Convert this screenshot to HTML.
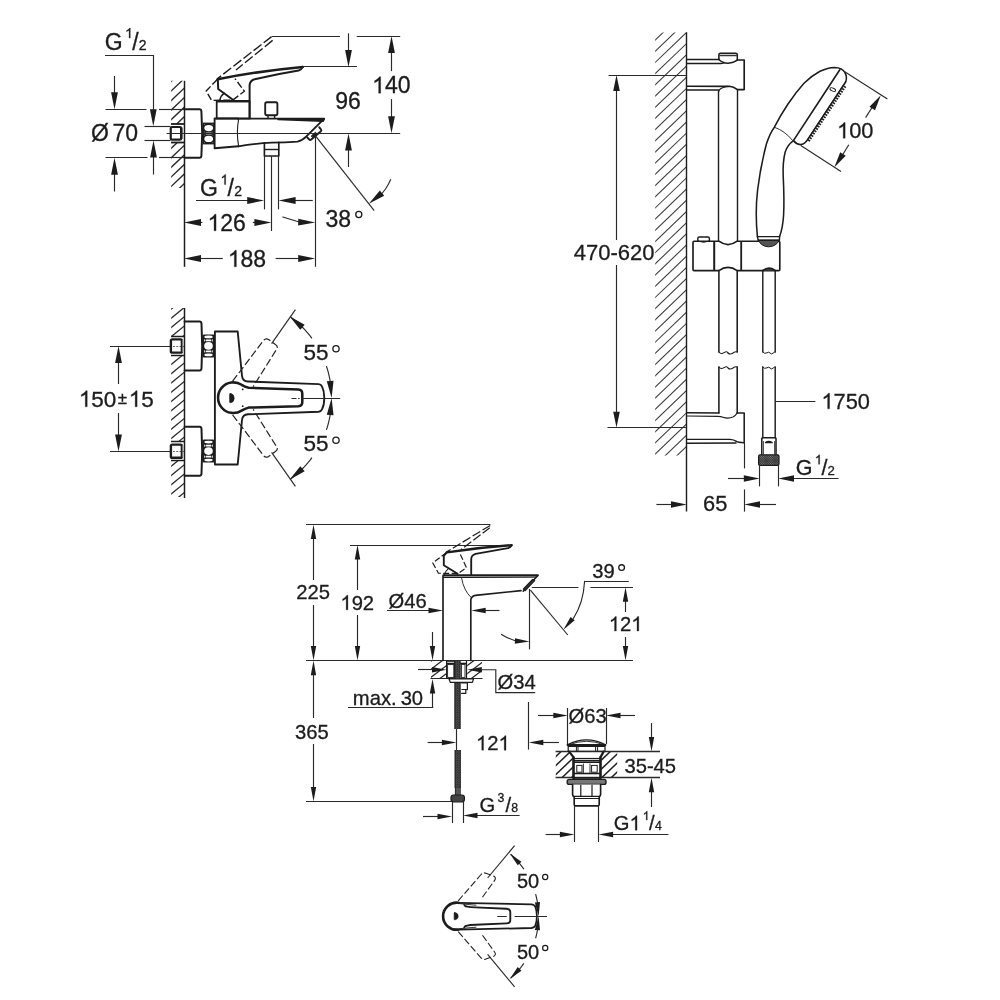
<!DOCTYPE html>
<html><head><meta charset="utf-8"><title>drawing</title>
<style>html,body{margin:0;padding:0;background:#fff;}svg{display:block;will-change:transform;filter:grayscale(1);font-family:"Liberation Sans",sans-serif;}svg text{font-family:"Liberation Sans",sans-serif;stroke:#1c1c1c;stroke-width:0.3px;}</style></head>
<body>
<svg width="1000" height="1000" viewBox="0 0 1000 1000">
<rect x="0" y="0" width="1000" height="1000" fill="#ffffff"/>
<g id="A">
<clipPath id="hA"><rect x="171.2" y="80.8" width="12.8" height="107.2"/></clipPath>
<g clip-path="url(#hA)">
<line x1="170.2" y1="63.26" x2="185" y2="49.2" stroke="#2a2a2a" stroke-width="1.35" stroke-linecap="butt"/>
<line x1="170.2" y1="72.81" x2="185" y2="58.75" stroke="#2a2a2a" stroke-width="1.35" stroke-linecap="butt"/>
<line x1="170.2" y1="82.36" x2="185" y2="68.3" stroke="#2a2a2a" stroke-width="1.35" stroke-linecap="butt"/>
<line x1="170.2" y1="91.91" x2="185" y2="77.85" stroke="#2a2a2a" stroke-width="1.35" stroke-linecap="butt"/>
<line x1="170.2" y1="101.46" x2="185" y2="87.4" stroke="#2a2a2a" stroke-width="1.35" stroke-linecap="butt"/>
<line x1="170.2" y1="111.01" x2="185" y2="96.95" stroke="#2a2a2a" stroke-width="1.35" stroke-linecap="butt"/>
<line x1="170.2" y1="120.56" x2="185" y2="106.5" stroke="#2a2a2a" stroke-width="1.35" stroke-linecap="butt"/>
<line x1="170.2" y1="130.11" x2="185" y2="116.05" stroke="#2a2a2a" stroke-width="1.35" stroke-linecap="butt"/>
<line x1="170.2" y1="139.66" x2="185" y2="125.6" stroke="#2a2a2a" stroke-width="1.35" stroke-linecap="butt"/>
<line x1="170.2" y1="149.21" x2="185" y2="135.15" stroke="#2a2a2a" stroke-width="1.35" stroke-linecap="butt"/>
<line x1="170.2" y1="158.76" x2="185" y2="144.7" stroke="#2a2a2a" stroke-width="1.35" stroke-linecap="butt"/>
<line x1="170.2" y1="168.31" x2="185" y2="154.25" stroke="#2a2a2a" stroke-width="1.35" stroke-linecap="butt"/>
<line x1="170.2" y1="177.86" x2="185" y2="163.8" stroke="#2a2a2a" stroke-width="1.35" stroke-linecap="butt"/>
<line x1="170.2" y1="187.41" x2="185" y2="173.35" stroke="#2a2a2a" stroke-width="1.35" stroke-linecap="butt"/>
<line x1="170.2" y1="196.96" x2="185" y2="182.9" stroke="#2a2a2a" stroke-width="1.35" stroke-linecap="butt"/>
<line x1="170.2" y1="206.51" x2="185" y2="192.45" stroke="#2a2a2a" stroke-width="1.35" stroke-linecap="butt"/>
<line x1="170.2" y1="216.06" x2="185" y2="202" stroke="#2a2a2a" stroke-width="1.35" stroke-linecap="butt"/>
</g>
<line x1="105" y1="55.5" x2="153.8" y2="55.5" stroke="#2a2a2a" stroke-width="1.15" stroke-linecap="butt"/>
<line x1="153.5" y1="55.2" x2="153.5" y2="112" stroke="#2a2a2a" stroke-width="1.15" stroke-linecap="butt"/>
<polygon points="153.3,126.2 149.9,109.2 156.7,109.2" fill="#1c1c1c" stroke="none" stroke-width="0"/>
<line x1="105.5" y1="109.5" x2="146.5" y2="109.5" stroke="#2a2a2a" stroke-width="1.15" stroke-linecap="butt"/>
<line x1="159" y1="109.5" x2="184" y2="109.5" stroke="#2a2a2a" stroke-width="1.15" stroke-linecap="butt"/>
<line x1="105.5" y1="157.5" x2="147.5" y2="157.5" stroke="#2a2a2a" stroke-width="1.15" stroke-linecap="butt"/>
<line x1="159" y1="157.5" x2="184" y2="157.5" stroke="#2a2a2a" stroke-width="1.15" stroke-linecap="butt"/>
<line x1="114.5" y1="76" x2="114.5" y2="95.7" stroke="#2a2a2a" stroke-width="1.15" stroke-linecap="butt"/>
<polygon points="114.5,109.3 111.1,92.3 117.9,92.3" fill="#1c1c1c" stroke="none" stroke-width="0"/>
<line x1="114.5" y1="191.5" x2="114.5" y2="171.4" stroke="#2a2a2a" stroke-width="1.15" stroke-linecap="butt"/>
<polygon points="114.5,157.8 117.9,174.8 111.1,174.8" fill="#1c1c1c" stroke="none" stroke-width="0"/>
<line x1="144.5" y1="126.5" x2="171" y2="126.5" stroke="#2a2a2a" stroke-width="1.15" stroke-linecap="butt"/>
<line x1="144.5" y1="140.5" x2="171" y2="140.5" stroke="#2a2a2a" stroke-width="1.15" stroke-linecap="butt"/>
<line x1="153.5" y1="174.5" x2="153.5" y2="154.2" stroke="#2a2a2a" stroke-width="1.15" stroke-linecap="butt"/>
<polygon points="153.5,140.6 156.9,157.6 150.1,157.6" fill="#1c1c1c" stroke="none" stroke-width="0"/>
<rect x="170.4" y="124" width="13.6" height="18.5" fill="#fff"/>
<line x1="171" y1="124" x2="184" y2="124" stroke="#1c1c1c" stroke-width="1.8" stroke-linecap="butt"/>
<line x1="171" y1="142.5" x2="184" y2="142.5" stroke="#1c1c1c" stroke-width="1.8" stroke-linecap="butt"/>
<rect x="170.75" y="127" width="10.35" height="12.6" rx="1.2" fill="#fff" stroke="#1c1c1c" stroke-width="2.2"/>
<line x1="182.5" y1="127.5" x2="182.5" y2="139" stroke="#777" stroke-width="1" stroke-linecap="butt"/>
<path d="M184.6,109.3 H199.5 Q201.3,109.3 201.4,111.5 L202.2,133.5 L201.4,155.8 Q201.3,157.8 199.5,157.8 H184.6" fill="#fff" stroke="#1c1c1c" stroke-width="1.98" stroke-linejoin="round" stroke-linecap="round" />
<line x1="184.5" y1="80.8" x2="184.5" y2="266.8" stroke="#1c1c1c" stroke-width="1.5" stroke-linecap="butt"/>
<rect x="202.6" y="122.6" width="12.2" height="21.8" fill="#1e1e1e"/>
<ellipse cx="208.7" cy="128.1" rx="4.4" ry="3.1" fill="#fff"/>
<ellipse cx="208.7" cy="138.9" rx="4.4" ry="3.1" fill="#fff"/>
<rect x="205.7" y="132.2" width="6" height="2.6" fill="#8a8a8a"/>
<circle cx="204.5" cy="124.3" r="0.45" fill="#ddd"/>
<circle cx="204.5" cy="131.9" r="0.45" fill="#ddd"/>
<circle cx="204.5" cy="135.1" r="0.45" fill="#ddd"/>
<circle cx="204.5" cy="142.7" r="0.45" fill="#ddd"/>
<circle cx="212.9" cy="124.3" r="0.45" fill="#ddd"/>
<circle cx="212.9" cy="131.9" r="0.45" fill="#ddd"/>
<circle cx="212.9" cy="135.1" r="0.45" fill="#ddd"/>
<circle cx="212.9" cy="142.7" r="0.45" fill="#ddd"/>
<path d="M214.6,118.5 H237.6 M214.6,118.5 V148.3 L238.4,146.3" fill="none" stroke="#1c1c1c" stroke-width="1.87" stroke-linejoin="round" stroke-linecap="round" />
<path d="M237.6,118.6 H324.2 L306.4,136.4 Q302.5,140.6 297.5,141.6 Q285,142.6 272,142.6 Q255,143.5 238.4,146.3" fill="none" stroke="#1c1c1c" stroke-width="1.87" stroke-linejoin="round" stroke-linecap="round" />
<path d="M238.6,119 Q236.2,133 238.6,146" fill="none" stroke="#1c1c1c" stroke-width="1.1" stroke-linejoin="round" stroke-linecap="round" />
<path d="M278,119.5 L323,121.3" fill="none" stroke="#1c1c1c" stroke-width="1.43" stroke-linejoin="round" stroke-linecap="round" />
<path d="M281,118.9 L324.2,119.6 L323,121.3" fill="#1c1c1c" stroke="#1c1c1c" stroke-width="1.2" stroke-linejoin="round" stroke-linecap="round" />
<path d="M307.2,137.3 L309.3,139.6 Q310.2,140.4 311.2,139.6 L320.9,131.2 Q321.7,130.4 321,129.5 L319.3,127.3" fill="none" stroke="#1c1c1c" stroke-width="1.98" stroke-linejoin="round" stroke-linecap="round" />
<path d="M311.5,135.8 L315.5,132.2 L316.6,133.6 L312.8,137.2 Z" fill="#1c1c1c" stroke="#1c1c1c" stroke-width="1" stroke-linejoin="round" stroke-linecap="round" />
<rect x="216.7" y="101.4" width="32.9" height="17.1" rx="0" fill="none" stroke="#1c1c1c" stroke-width="1.76"/>
<line x1="216.7" y1="101.2" x2="249.6" y2="101.2" stroke="#1c1c1c" stroke-width="2.2" stroke-linecap="butt"/>
<path d="M249.6,118.3 V85.4 Q249.8,80.6 254.6,79.2 Q278,74 298.6,70.6 Q301.6,69.4 302.8,66.9" fill="none" stroke="#1c1c1c" stroke-width="1.98" stroke-linejoin="round" stroke-linecap="round" />
<path d="M302.8,66.9 Q262,70.6 217.6,79.2" fill="none" stroke="#1c1c1c" stroke-width="2.53" stroke-linejoin="round" stroke-linecap="round" />
<path d="M217.8,79.2 L218.2,89 L233.6,100.2" fill="none" stroke="#1c1c1c" stroke-width="1.98" stroke-linejoin="round" stroke-linecap="round" />
<path d="M219.8,100.4 Q220.6,95.8 224.2,93.2" fill="none" stroke="#1c1c1c" stroke-width="1.43" stroke-linejoin="round" stroke-linecap="round" />
<path d="M271.6,36.6 L217.6,78.6" fill="none" stroke="#1c1c1c" stroke-width="1.4" stroke-linejoin="round" stroke-linecap="butt" stroke-dasharray="10 2.8" />
<path d="M272.6,40.4 L236,70" fill="none" stroke="#1c1c1c" stroke-width="1.4" stroke-linejoin="round" stroke-linecap="butt" stroke-dasharray="10 2.8" />
<path d="M217.2,79.4 L206.2,91 L211.6,100.4 L232.6,100.2 L244.4,91.2 L235,78.6" fill="none" stroke="#1c1c1c" stroke-width="1.4" stroke-linejoin="round" stroke-linecap="butt" stroke-dasharray="7 2.6" />
<rect x="265.2" y="102.3" width="12.2" height="12.9" rx="1.6" fill="none" stroke="#1c1c1c" stroke-width="1.87"/>
<path d="M268,115.4 V118.3 M274.6,115.4 V118.3" fill="none" stroke="#1c1c1c" stroke-width="1.43" stroke-linejoin="round" stroke-linecap="round" />
<path d="M264.4,142.8 V156 H278.8 V142.4" fill="none" stroke="#1c1c1c" stroke-width="1.65" stroke-linejoin="round" stroke-linecap="round" />
<line x1="264.4" y1="149.5" x2="278.8" y2="149.5" stroke="#1c1c1c" stroke-width="1.4" stroke-linecap="butt"/>
<line x1="264.5" y1="156" x2="264.5" y2="209.4" stroke="#2a2a2a" stroke-width="1.15" stroke-linecap="butt"/>
<line x1="278.5" y1="156" x2="278.5" y2="209.4" stroke="#2a2a2a" stroke-width="1.15" stroke-linecap="butt"/>
<line x1="271.5" y1="156" x2="271.5" y2="231" stroke="#2a2a2a" stroke-width="1.15" stroke-linecap="butt"/>
<line x1="166.6" y1="133.5" x2="400.2" y2="133.5" stroke="#2a2a2a" stroke-width="1.15" stroke-linecap="butt"/>
<line x1="272" y1="36.5" x2="339.9" y2="36.5" stroke="#2a2a2a" stroke-width="1.15" stroke-linecap="butt"/>
<line x1="356.7" y1="36.5" x2="400.2" y2="36.5" stroke="#2a2a2a" stroke-width="1.15" stroke-linecap="butt"/>
<line x1="303" y1="66.5" x2="357" y2="66.5" stroke="#2a2a2a" stroke-width="1.15" stroke-linecap="butt"/>
<line x1="348.5" y1="33.3" x2="348.5" y2="53.3" stroke="#2a2a2a" stroke-width="1.15" stroke-linecap="butt"/>
<polygon points="348.5,66.9 345.1,49.9 351.9,49.9" fill="#1c1c1c" stroke="none" stroke-width="0"/>
<line x1="348.5" y1="167" x2="348.5" y2="147" stroke="#2a2a2a" stroke-width="1.15" stroke-linecap="butt"/>
<polygon points="348.5,133.4 351.9,150.4 345.1,150.4" fill="#1c1c1c" stroke="none" stroke-width="0"/>
<line x1="391.5" y1="71.1" x2="391.5" y2="49.7" stroke="#2a2a2a" stroke-width="1.15" stroke-linecap="butt"/>
<polygon points="391.5,36.1 394.9,53.1 388.1,53.1" fill="#1c1c1c" stroke="none" stroke-width="0"/>
<line x1="391.5" y1="99.1" x2="391.5" y2="119.6" stroke="#2a2a2a" stroke-width="1.15" stroke-linecap="butt"/>
<polygon points="391.5,133.2 388.1,116.2 394.9,116.2" fill="#1c1c1c" stroke="none" stroke-width="0"/>
<line x1="315.5" y1="135.6" x2="315.5" y2="266.8" stroke="#2a2a2a" stroke-width="1.15" stroke-linecap="butt"/>
<line x1="315.3" y1="135.6" x2="374.2" y2="210.6" stroke="#2a2a2a" stroke-width="1.15" stroke-linecap="butt"/>
<path d="M390.8,179.2 L388.5,184 L385.5,189 L382,193.5" fill="none" stroke="#2a2a2a" stroke-width="1.15" stroke-linejoin="round" stroke-linecap="butt" />
<polygon points="368.8,203.8 379.87,190.46 384.15,195.75" fill="#1c1c1c" stroke="none" stroke-width="0"/>
<line x1="196" y1="200.5" x2="250.6" y2="200.5" stroke="#2a2a2a" stroke-width="1.15" stroke-linecap="butt"/>
<polygon points="264.2,200.5 247.2,203.9 247.2,197.1" fill="#1c1c1c" stroke="none" stroke-width="0"/>
<line x1="312.8" y1="200.5" x2="292.2" y2="200.5" stroke="#2a2a2a" stroke-width="1.15" stroke-linecap="butt"/>
<polygon points="278.6,200.5 295.6,197.1 295.6,203.9" fill="#1c1c1c" stroke="none" stroke-width="0"/>
<line x1="202.4" y1="222.5" x2="197.6" y2="222.5" stroke="#2a2a2a" stroke-width="1.15" stroke-linecap="butt"/>
<polygon points="184,222.5 201,219.1 201,225.9" fill="#1c1c1c" stroke="none" stroke-width="0"/>
<line x1="252.8" y1="222.5" x2="257.8" y2="222.5" stroke="#2a2a2a" stroke-width="1.15" stroke-linecap="butt"/>
<polygon points="271.4,222.5 254.4,225.9 254.4,219.1" fill="#1c1c1c" stroke="none" stroke-width="0"/>
<path d="M282.8,217 Q291,219.6 300,222.2" fill="none" stroke="#2a2a2a" stroke-width="1.15" stroke-linejoin="round" stroke-linecap="round" />
<polygon points="315.2,222.4 298.14,225.46 298.27,218.66" fill="#1c1c1c" stroke="none" stroke-width="0"/>
<line x1="222.8" y1="258.5" x2="197.6" y2="258.5" stroke="#2a2a2a" stroke-width="1.15" stroke-linecap="butt"/>
<polygon points="184,258.5 201,255.1 201,261.9" fill="#1c1c1c" stroke="none" stroke-width="0"/>
<line x1="275.6" y1="258.5" x2="301.6" y2="258.5" stroke="#2a2a2a" stroke-width="1.15" stroke-linecap="butt"/>
<polygon points="315.2,258.5 298.2,261.9 298.2,255.1" fill="#1c1c1c" stroke="none" stroke-width="0"/>
<text x="104.65" y="49.6" font-size="23" fill="#1c1c1c">G</text>
<path d="M130.29,38.1L129.06,38.1L129.06,30.24Q128.61,30.67 127.89,31.09Q127.17,31.52 126.59,31.73L126.59,30.54Q127.63,30.05 128.4,29.36Q129.17,28.67 129.5,28.02L130.29,28.02Z" fill="#1c1c1c" stroke="#1c1c1c" stroke-width="0.3"/>
<text x="132.13" y="49.6" font-size="23" fill="#1c1c1c">/</text>
<text x="138.74" y="49.6" font-size="14.03" fill="#1c1c1c">2</text>
<text x="91.02" y="141.4" font-size="23" fill="#1c1c1c">Ø</text>
<text x="112.43" y="141.4" font-size="23" fill="#1c1c1c">70</text>
<text x="335.34" y="108.6" font-size="23" fill="#1c1c1c">96</text>
<path d="M380.67,93.2L378.64,93.2L378.64,80.32Q377.91,81.01 376.73,81.71Q375.54,82.41 374.6,82.76L374.6,80.8Q376.3,80 377.56,78.87Q378.83,77.73 379.36,76.67L380.67,76.67Z" fill="#1c1c1c" stroke="#1c1c1c" stroke-width="0.3"/>
<text x="384.89" y="93.2" font-size="23" fill="#1c1c1c">40</text>
<text x="200.05" y="196" font-size="23" fill="#1c1c1c">G</text>
<path d="M225.69,184.5L224.46,184.5L224.46,176.64Q224.01,177.07 223.29,177.49Q222.57,177.92 221.99,178.13L221.99,176.94Q223.03,176.45 223.8,175.76Q224.57,175.07 224.9,174.42L225.69,174.42Z" fill="#1c1c1c" stroke="#1c1c1c" stroke-width="0.3"/>
<text x="227.53" y="196" font-size="23" fill="#1c1c1c">/</text>
<text x="234.14" y="196" font-size="14.03" fill="#1c1c1c">2</text>
<path d="M216.07,230.8L214.04,230.8L214.04,217.92Q213.31,218.61 212.13,219.31Q210.94,220.01 210,220.36L210,218.4Q211.7,217.6 212.96,216.47Q214.23,215.33 214.76,214.27L216.07,214.27Z" fill="#1c1c1c" stroke="#1c1c1c" stroke-width="0.3"/>
<text x="220.29" y="230.8" font-size="23" fill="#1c1c1c">26</text>
<path d="M236.37,266.8L234.34,266.8L234.34,253.92Q233.61,254.61 232.43,255.31Q231.24,256.01 230.3,256.36L230.3,254.4Q232,253.6 233.26,252.47Q234.53,251.33 235.06,250.27L236.37,250.27Z" fill="#1c1c1c" stroke="#1c1c1c" stroke-width="0.3"/>
<text x="240.59" y="266.8" font-size="23" fill="#1c1c1c">88</text>
<text x="325.43" y="226.5" font-size="23" fill="#1c1c1c">38</text>
<circle cx="358.8" cy="214.5" r="3.05" fill="none" stroke="#1c1c1c" stroke-width="1.3"/>
</g>
<g id="B">
<clipPath id="hB"><rect x="171.2" y="308" width="12.8" height="189"/></clipPath>
<g clip-path="url(#hB)">
<line x1="170.2" y1="291.32" x2="185" y2="279.18" stroke="#2a2a2a" stroke-width="1.35" stroke-linecap="butt"/>
<line x1="170.2" y1="300.57" x2="185" y2="288.43" stroke="#2a2a2a" stroke-width="1.35" stroke-linecap="butt"/>
<line x1="170.2" y1="309.82" x2="185" y2="297.68" stroke="#2a2a2a" stroke-width="1.35" stroke-linecap="butt"/>
<line x1="170.2" y1="319.07" x2="185" y2="306.93" stroke="#2a2a2a" stroke-width="1.35" stroke-linecap="butt"/>
<line x1="170.2" y1="328.32" x2="185" y2="316.18" stroke="#2a2a2a" stroke-width="1.35" stroke-linecap="butt"/>
<line x1="170.2" y1="337.57" x2="185" y2="325.43" stroke="#2a2a2a" stroke-width="1.35" stroke-linecap="butt"/>
<line x1="170.2" y1="346.82" x2="185" y2="334.68" stroke="#2a2a2a" stroke-width="1.35" stroke-linecap="butt"/>
<line x1="170.2" y1="356.07" x2="185" y2="343.93" stroke="#2a2a2a" stroke-width="1.35" stroke-linecap="butt"/>
<line x1="170.2" y1="365.32" x2="185" y2="353.18" stroke="#2a2a2a" stroke-width="1.35" stroke-linecap="butt"/>
<line x1="170.2" y1="374.57" x2="185" y2="362.43" stroke="#2a2a2a" stroke-width="1.35" stroke-linecap="butt"/>
<line x1="170.2" y1="383.82" x2="185" y2="371.68" stroke="#2a2a2a" stroke-width="1.35" stroke-linecap="butt"/>
<line x1="170.2" y1="393.07" x2="185" y2="380.93" stroke="#2a2a2a" stroke-width="1.35" stroke-linecap="butt"/>
<line x1="170.2" y1="402.32" x2="185" y2="390.18" stroke="#2a2a2a" stroke-width="1.35" stroke-linecap="butt"/>
<line x1="170.2" y1="411.57" x2="185" y2="399.43" stroke="#2a2a2a" stroke-width="1.35" stroke-linecap="butt"/>
<line x1="170.2" y1="420.82" x2="185" y2="408.68" stroke="#2a2a2a" stroke-width="1.35" stroke-linecap="butt"/>
<line x1="170.2" y1="430.07" x2="185" y2="417.93" stroke="#2a2a2a" stroke-width="1.35" stroke-linecap="butt"/>
<line x1="170.2" y1="439.32" x2="185" y2="427.18" stroke="#2a2a2a" stroke-width="1.35" stroke-linecap="butt"/>
<line x1="170.2" y1="448.57" x2="185" y2="436.43" stroke="#2a2a2a" stroke-width="1.35" stroke-linecap="butt"/>
<line x1="170.2" y1="457.82" x2="185" y2="445.68" stroke="#2a2a2a" stroke-width="1.35" stroke-linecap="butt"/>
<line x1="170.2" y1="467.07" x2="185" y2="454.93" stroke="#2a2a2a" stroke-width="1.35" stroke-linecap="butt"/>
<line x1="170.2" y1="476.32" x2="185" y2="464.18" stroke="#2a2a2a" stroke-width="1.35" stroke-linecap="butt"/>
<line x1="170.2" y1="485.57" x2="185" y2="473.43" stroke="#2a2a2a" stroke-width="1.35" stroke-linecap="butt"/>
<line x1="170.2" y1="494.82" x2="185" y2="482.68" stroke="#2a2a2a" stroke-width="1.35" stroke-linecap="butt"/>
<line x1="170.2" y1="504.07" x2="185" y2="491.93" stroke="#2a2a2a" stroke-width="1.35" stroke-linecap="butt"/>
<line x1="170.2" y1="513.32" x2="185" y2="501.18" stroke="#2a2a2a" stroke-width="1.35" stroke-linecap="butt"/>
<line x1="170.2" y1="522.57" x2="185" y2="510.43" stroke="#2a2a2a" stroke-width="1.35" stroke-linecap="butt"/>
</g>
<line x1="110" y1="346.5" x2="170" y2="346.5" stroke="#2a2a2a" stroke-width="1.15" stroke-linecap="butt"/>
<line x1="110" y1="451.5" x2="170" y2="451.5" stroke="#2a2a2a" stroke-width="1.15" stroke-linecap="butt"/>
<line x1="118.5" y1="384" x2="118.5" y2="359.6" stroke="#2a2a2a" stroke-width="1.15" stroke-linecap="butt"/>
<polygon points="118.5,346 121.9,363 115.1,363" fill="#1c1c1c" stroke="none" stroke-width="0"/>
<line x1="118.5" y1="413" x2="118.5" y2="437.8" stroke="#2a2a2a" stroke-width="1.15" stroke-linecap="butt"/>
<polygon points="118.5,451.4 115.1,434.4 121.9,434.4" fill="#1c1c1c" stroke="none" stroke-width="0"/>
<rect x="170.4" y="336.6" width="13.6" height="18.8" fill="#fff"/>
<line x1="171" y1="336.5" x2="184" y2="336.5" stroke="#1c1c1c" stroke-width="1.5" stroke-linecap="butt"/>
<line x1="171" y1="355.5" x2="184" y2="355.5" stroke="#1c1c1c" stroke-width="1.5" stroke-linecap="butt"/>
<rect x="170.9" y="339.4" width="11" height="13.2" rx="1.4" fill="#fff" stroke="#1c1c1c" stroke-width="2.42"/>
<line x1="182.5" y1="340" x2="182.5" y2="352" stroke="#777" stroke-width="1" stroke-linecap="butt"/>
<line x1="173" y1="346.5" x2="184" y2="346.5" stroke="#2a2a2a" stroke-width="0.7" stroke-dasharray="2 1.2" stroke-linecap="butt"/>
<path d="M184.6,321.5 H199.6 Q201.4,321.5 201.5,323.7 L202.2,346 L201.5,368.3 Q201.4,370.5 199.6,370.5 H184.6" fill="#fff" stroke="#1c1c1c" stroke-width="1.98" stroke-linejoin="round" stroke-linecap="round" />
<rect x="202.4" y="334.4" width="12.2" height="23" rx="1.5" fill="#1e1e1e"/>
<ellipse cx="208.5" cy="345.9" rx="4.3" ry="3.8" fill="#fff"/>
<ellipse cx="208.5" cy="336.9" rx="4.2" ry="1.35" fill="#fff"/>
<rect x="205.7" y="339.6" width="5.6" height="1.6" rx="0.5" fill="#fff"/>
<rect x="204.1" y="339.2" width="1" height="2.4" rx="0.4" fill="#ddd"/>
<rect x="211.9" y="339.2" width="1" height="2.4" rx="0.4" fill="#ddd"/>
<ellipse cx="208.5" cy="354.9" rx="4.2" ry="1.35" fill="#fff"/>
<rect x="205.7" y="350.6" width="5.6" height="1.6" rx="0.5" fill="#fff"/>
<rect x="204.1" y="350.2" width="1" height="2.4" rx="0.4" fill="#ddd"/>
<rect x="211.9" y="350.2" width="1" height="2.4" rx="0.4" fill="#ddd"/>
<rect x="170.4" y="441.8" width="13.6" height="18.8" fill="#fff"/>
<line x1="171" y1="441.5" x2="184" y2="441.5" stroke="#1c1c1c" stroke-width="1.5" stroke-linecap="butt"/>
<line x1="171" y1="460.5" x2="184" y2="460.5" stroke="#1c1c1c" stroke-width="1.5" stroke-linecap="butt"/>
<rect x="170.9" y="444.6" width="11" height="13.2" rx="1.4" fill="#fff" stroke="#1c1c1c" stroke-width="2.42"/>
<line x1="182.5" y1="445.2" x2="182.5" y2="457.2" stroke="#777" stroke-width="1" stroke-linecap="butt"/>
<line x1="173" y1="451.5" x2="184" y2="451.5" stroke="#2a2a2a" stroke-width="0.7" stroke-dasharray="2 1.2" stroke-linecap="butt"/>
<path d="M184.6,426.7 H199.6 Q201.4,426.7 201.5,428.9 L202.2,451.2 L201.5,473.5 Q201.4,475.7 199.6,475.7 H184.6" fill="#fff" stroke="#1c1c1c" stroke-width="1.98" stroke-linejoin="round" stroke-linecap="round" />
<rect x="202.4" y="439.6" width="12.2" height="23" rx="1.5" fill="#1e1e1e"/>
<ellipse cx="208.5" cy="451.1" rx="4.3" ry="3.8" fill="#fff"/>
<ellipse cx="208.5" cy="442.1" rx="4.2" ry="1.35" fill="#fff"/>
<rect x="205.7" y="444.8" width="5.6" height="1.6" rx="0.5" fill="#fff"/>
<rect x="204.1" y="444.4" width="1" height="2.4" rx="0.4" fill="#ddd"/>
<rect x="211.9" y="444.4" width="1" height="2.4" rx="0.4" fill="#ddd"/>
<ellipse cx="208.5" cy="460.1" rx="4.2" ry="1.35" fill="#fff"/>
<rect x="205.7" y="455.8" width="5.6" height="1.6" rx="0.5" fill="#fff"/>
<rect x="204.1" y="455.4" width="1" height="2.4" rx="0.4" fill="#ddd"/>
<rect x="211.9" y="455.4" width="1" height="2.4" rx="0.4" fill="#ddd"/>
<line x1="184.5" y1="308" x2="184.5" y2="498" stroke="#1c1c1c" stroke-width="1.5" stroke-linecap="butt"/>
<path d="M214.9,331.5 H237.7 L242,375.8 Q242.6,381.2 248,381.5 L318.6,384.1 Q321,384.2 322,386.4 Q324.3,391 324.3,398 Q324.3,405 322,409.4 Q321,411.5 318.6,411.7 L248,414.3 Q242.6,414.6 242,420 L237.7,464.5 H214.9 Z" fill="none" stroke="#1c1c1c" stroke-width="1.87" stroke-linejoin="round" stroke-linecap="round" />
<path d="M232.6,381.2 L263.4,340.6 Q265.6,337.6 268.6,339.6 L275.4,344.4 Q278.6,346.4 276.4,349.6 L253.2,386.6" fill="none" stroke="#222" stroke-width="1.2" stroke-linejoin="round" stroke-linecap="butt" stroke-dasharray="7.5 2.8" />
<line x1="271.6" y1="343.6" x2="295.4" y2="309.6" stroke="#2a2a2a" stroke-width="1.15" stroke-linecap="butt"/>
<path d="M232.6,414.8 L263.4,455.4 Q265.6,458.4 268.6,456.4 L275.4,451.6 Q278.6,449.6 276.4,446.4 L253.2,409.4" fill="none" stroke="#222" stroke-width="1.2" stroke-linejoin="round" stroke-linecap="butt" stroke-dasharray="7.5 2.8" />
<line x1="271.6" y1="452.4" x2="295.4" y2="486.4" stroke="#2a2a2a" stroke-width="1.15" stroke-linecap="butt"/>
<path d="M241.6,384.8 Q245,386.8 248.6,387.7 L298.4,389.5 Q302.3,389.8 302.3,393.6 L302.3,402.2 Q302.3,405.9 298.4,406.2 L248.6,407.6 Q245,408.6 241.6,410.6 A15.3,15.3 0 1 1 241.6,384.8 Z" fill="#fff" stroke="#1c1c1c" stroke-width="2.53" stroke-linejoin="round" stroke-linecap="round" />
<circle cx="242.7" cy="389.4" r="0.9" fill="#1c1c1c"/><circle cx="242.7" cy="406.2" r="0.9" fill="#1c1c1c"/>
<path d="M230.2,393.6 H231 Q234.2,394.4 234.2,398.2 Q234.2,401.8 231,402.7 H230.2 Q229.6,402.7 229.6,402 V394.3 Q229.6,393.6 230.2,393.6 Z" fill="#1c1c1c" stroke="#1c1c1c" stroke-width="0.6" stroke-linejoin="round" stroke-linecap="round" />
<line x1="291.5" y1="398.5" x2="340.2" y2="398.5" stroke="#2a2a2a" stroke-width="1.15" stroke-dasharray="5 1.6 1.6 1.8 39 0" stroke-linecap="butt"/>
<path d="M290.92,317.29 L293.29,319.1 L295.6,320.98 L297.86,322.92 L300.06,324.93 L302.19,327.01 L304.27,329.14 L306.28,331.34 L308.22,333.6 L310.1,335.91 L311.91,338.28" fill="none" stroke="#2a2a2a" stroke-width="1.15" stroke-linejoin="round" stroke-linecap="butt" />
<path d="M326.41,366.14 L327.26,368.79 L328.03,371.45 L328.72,374.14 L329.34,376.84 L329.89,379.56 L330.36,382.29" fill="none" stroke="#2a2a2a" stroke-width="1.15" stroke-linejoin="round" stroke-linecap="butt" />
<path d="M326.41,429.86 L327.26,427.21 L328.03,424.55 L328.72,421.86 L329.34,419.16 L329.89,416.44 L330.36,413.71" fill="none" stroke="#2a2a2a" stroke-width="1.15" stroke-linejoin="round" stroke-linecap="butt" />
<path d="M290.92,478.71 L293.29,476.9 L295.6,475.02 L297.86,473.08 L300.06,471.07 L302.19,468.99 L304.27,466.86 L306.28,464.66 L308.22,462.4 L310.1,460.09 L311.91,457.72" fill="none" stroke="#2a2a2a" stroke-width="1.15" stroke-linejoin="round" stroke-linecap="butt" />
<polygon points="289.5,316.26 304.66,324.68 300.26,329.86" fill="#1c1c1c" stroke="none" stroke-width="0"/>
<polygon points="331.6,398 326.77,381.35 333.55,380.77" fill="#1c1c1c" stroke="none" stroke-width="0"/>
<polygon points="331.6,398 333.55,415.23 326.77,414.65" fill="#1c1c1c" stroke="none" stroke-width="0"/>
<polygon points="289.5,479.74 300.26,466.14 304.66,471.32" fill="#1c1c1c" stroke="none" stroke-width="0"/>
<path d="M87.23,406.8L85.26,406.8L85.26,394.2Q84.54,394.88 83.38,395.56Q82.22,396.24 81.3,396.58L81.3,394.67Q82.96,393.89 84.2,392.78Q85.44,391.67 85.96,390.63L87.23,390.63Z" fill="#1c1c1c" stroke="#1c1c1c" stroke-width="0.3"/>
<text x="91.36" y="406.8" font-size="22.5" fill="#1c1c1c">50</text>
<text x="117.87" y="404.2" font-size="17" fill="#1c1c1c">±</text>
<path d="M137.13,406.8L135.16,406.8L135.16,394.2Q134.44,394.88 133.28,395.56Q132.12,396.24 131.2,396.58L131.2,394.67Q132.86,393.89 134.1,392.78Q135.34,391.67 135.86,390.63L137.13,390.63Z" fill="#1c1c1c" stroke="#1c1c1c" stroke-width="0.3"/>
<text x="141.26" y="406.8" font-size="22.5" fill="#1c1c1c">5</text>
<text x="303.5" y="359.8" font-size="22.5" fill="#1c1c1c">55</text>
<circle cx="336" cy="348.8" r="3.15" fill="none" stroke="#1c1c1c" stroke-width="1.3"/>
<text x="303.5" y="451.2" font-size="22.5" fill="#1c1c1c">55</text>
<circle cx="336" cy="440.2" r="3.15" fill="none" stroke="#1c1c1c" stroke-width="1.3"/>
</g>
<g id="C">
<clipPath id="hC"><rect x="655.2" y="32.4" width="31.6" height="423.1"/></clipPath>
<g clip-path="url(#hC)">
<line x1="654.2" y1="41.03" x2="687.8" y2="8.77" stroke="#3a3a3a" stroke-width="1.05" stroke-linecap="butt"/>
<line x1="654.2" y1="52.22" x2="687.8" y2="19.96" stroke="#3a3a3a" stroke-width="1.05" stroke-linecap="butt"/>
<line x1="654.2" y1="63.41" x2="687.8" y2="31.15" stroke="#3a3a3a" stroke-width="1.05" stroke-linecap="butt"/>
<line x1="654.2" y1="74.6" x2="687.8" y2="42.34" stroke="#3a3a3a" stroke-width="1.05" stroke-linecap="butt"/>
<line x1="654.2" y1="85.79" x2="687.8" y2="53.53" stroke="#3a3a3a" stroke-width="1.05" stroke-linecap="butt"/>
<line x1="654.2" y1="96.98" x2="687.8" y2="64.72" stroke="#3a3a3a" stroke-width="1.05" stroke-linecap="butt"/>
<line x1="654.2" y1="108.17" x2="687.8" y2="75.91" stroke="#3a3a3a" stroke-width="1.05" stroke-linecap="butt"/>
<line x1="654.2" y1="119.36" x2="687.8" y2="87.1" stroke="#3a3a3a" stroke-width="1.05" stroke-linecap="butt"/>
<line x1="654.2" y1="130.55" x2="687.8" y2="98.29" stroke="#3a3a3a" stroke-width="1.05" stroke-linecap="butt"/>
<line x1="654.2" y1="141.74" x2="687.8" y2="109.48" stroke="#3a3a3a" stroke-width="1.05" stroke-linecap="butt"/>
<line x1="654.2" y1="152.93" x2="687.8" y2="120.67" stroke="#3a3a3a" stroke-width="1.05" stroke-linecap="butt"/>
<line x1="654.2" y1="164.12" x2="687.8" y2="131.86" stroke="#3a3a3a" stroke-width="1.05" stroke-linecap="butt"/>
<line x1="654.2" y1="175.31" x2="687.8" y2="143.05" stroke="#3a3a3a" stroke-width="1.05" stroke-linecap="butt"/>
<line x1="654.2" y1="186.5" x2="687.8" y2="154.24" stroke="#3a3a3a" stroke-width="1.05" stroke-linecap="butt"/>
<line x1="654.2" y1="197.69" x2="687.8" y2="165.43" stroke="#3a3a3a" stroke-width="1.05" stroke-linecap="butt"/>
<line x1="654.2" y1="208.88" x2="687.8" y2="176.62" stroke="#3a3a3a" stroke-width="1.05" stroke-linecap="butt"/>
<line x1="654.2" y1="220.07" x2="687.8" y2="187.81" stroke="#3a3a3a" stroke-width="1.05" stroke-linecap="butt"/>
<line x1="654.2" y1="231.26" x2="687.8" y2="199" stroke="#3a3a3a" stroke-width="1.05" stroke-linecap="butt"/>
<line x1="654.2" y1="242.45" x2="687.8" y2="210.19" stroke="#3a3a3a" stroke-width="1.05" stroke-linecap="butt"/>
<line x1="654.2" y1="253.64" x2="687.8" y2="221.38" stroke="#3a3a3a" stroke-width="1.05" stroke-linecap="butt"/>
<line x1="654.2" y1="264.83" x2="687.8" y2="232.57" stroke="#3a3a3a" stroke-width="1.05" stroke-linecap="butt"/>
<line x1="654.2" y1="276.02" x2="687.8" y2="243.76" stroke="#3a3a3a" stroke-width="1.05" stroke-linecap="butt"/>
<line x1="654.2" y1="287.21" x2="687.8" y2="254.95" stroke="#3a3a3a" stroke-width="1.05" stroke-linecap="butt"/>
<line x1="654.2" y1="298.4" x2="687.8" y2="266.14" stroke="#3a3a3a" stroke-width="1.05" stroke-linecap="butt"/>
<line x1="654.2" y1="309.59" x2="687.8" y2="277.33" stroke="#3a3a3a" stroke-width="1.05" stroke-linecap="butt"/>
<line x1="654.2" y1="320.78" x2="687.8" y2="288.52" stroke="#3a3a3a" stroke-width="1.05" stroke-linecap="butt"/>
<line x1="654.2" y1="331.97" x2="687.8" y2="299.71" stroke="#3a3a3a" stroke-width="1.05" stroke-linecap="butt"/>
<line x1="654.2" y1="343.16" x2="687.8" y2="310.9" stroke="#3a3a3a" stroke-width="1.05" stroke-linecap="butt"/>
<line x1="654.2" y1="354.35" x2="687.8" y2="322.09" stroke="#3a3a3a" stroke-width="1.05" stroke-linecap="butt"/>
<line x1="654.2" y1="365.54" x2="687.8" y2="333.28" stroke="#3a3a3a" stroke-width="1.05" stroke-linecap="butt"/>
<line x1="654.2" y1="376.73" x2="687.8" y2="344.47" stroke="#3a3a3a" stroke-width="1.05" stroke-linecap="butt"/>
<line x1="654.2" y1="387.92" x2="687.8" y2="355.66" stroke="#3a3a3a" stroke-width="1.05" stroke-linecap="butt"/>
<line x1="654.2" y1="399.11" x2="687.8" y2="366.85" stroke="#3a3a3a" stroke-width="1.05" stroke-linecap="butt"/>
<line x1="654.2" y1="410.3" x2="687.8" y2="378.04" stroke="#3a3a3a" stroke-width="1.05" stroke-linecap="butt"/>
<line x1="654.2" y1="421.49" x2="687.8" y2="389.23" stroke="#3a3a3a" stroke-width="1.05" stroke-linecap="butt"/>
<line x1="654.2" y1="432.68" x2="687.8" y2="400.42" stroke="#3a3a3a" stroke-width="1.05" stroke-linecap="butt"/>
<line x1="654.2" y1="443.87" x2="687.8" y2="411.61" stroke="#3a3a3a" stroke-width="1.05" stroke-linecap="butt"/>
<line x1="654.2" y1="455.06" x2="687.8" y2="422.8" stroke="#3a3a3a" stroke-width="1.05" stroke-linecap="butt"/>
<line x1="654.2" y1="466.25" x2="687.8" y2="433.99" stroke="#3a3a3a" stroke-width="1.05" stroke-linecap="butt"/>
<line x1="654.2" y1="477.44" x2="687.8" y2="445.18" stroke="#3a3a3a" stroke-width="1.05" stroke-linecap="butt"/>
<line x1="654.2" y1="488.63" x2="687.8" y2="456.37" stroke="#3a3a3a" stroke-width="1.05" stroke-linecap="butt"/>
<line x1="654.2" y1="499.82" x2="687.8" y2="467.56" stroke="#3a3a3a" stroke-width="1.05" stroke-linecap="butt"/>
<line x1="654.2" y1="511.01" x2="687.8" y2="478.75" stroke="#3a3a3a" stroke-width="1.05" stroke-linecap="butt"/>
<line x1="654.2" y1="522.2" x2="687.8" y2="489.94" stroke="#3a3a3a" stroke-width="1.05" stroke-linecap="butt"/>
</g>
<line x1="686.5" y1="32.2" x2="686.5" y2="511.6" stroke="#1c1c1c" stroke-width="1.4" stroke-linecap="butt"/>
<line x1="608.6" y1="75.5" x2="686.8" y2="75.5" stroke="#2a2a2a" stroke-width="1.15" stroke-linecap="butt"/>
<line x1="607.5" y1="427.5" x2="686.8" y2="427.5" stroke="#2a2a2a" stroke-width="1.15" stroke-linecap="butt"/>
<line x1="616.5" y1="240" x2="616.5" y2="87.74" stroke="#2a2a2a" stroke-width="1.15" stroke-linecap="butt"/>
<polygon points="616.5,75.1 619.8,90.9 613.2,90.9" fill="#1c1c1c" stroke="none" stroke-width="0"/>
<line x1="616.5" y1="265" x2="616.5" y2="414.96" stroke="#2a2a2a" stroke-width="1.15" stroke-linecap="butt"/>
<polygon points="616.5,427.6 613.2,411.8 619.8,411.8" fill="#1c1c1c" stroke="none" stroke-width="0"/>
<path d="M686.8,59.5 L718.6,59.5" fill="none" stroke="#1c1c1c" stroke-width="1.54" stroke-linejoin="round" stroke-linecap="round" />
<path d="M686.8,63.4 L720.5,63.5 Q722.4,63.5 724,62.9" fill="none" stroke="#1c1c1c" stroke-width="1.54" stroke-linejoin="round" stroke-linecap="round" />
<path d="M737.4,60 H744.2 V89.6 H737.4" fill="none" stroke="#1c1c1c" stroke-width="1.65" stroke-linejoin="round" stroke-linecap="round" />
<path d="M686.8,86.2 L729.4,86.3 Q733.6,86.6 737.4,89.6" fill="none" stroke="#1c1c1c" stroke-width="1.65" stroke-linejoin="round" stroke-linecap="round" />
<path d="M686.8,90 L718.6,90.1" fill="none" stroke="#1c1c1c" stroke-width="1.54" stroke-linejoin="round" stroke-linecap="round" />
<path d="M718.6,91.4 Q719.4,88 727.5,86.4" fill="none" stroke="#1c1c1c" stroke-width="1.43" stroke-linejoin="round" stroke-linecap="round" />
<path d="M718.9,59.6 V54.8 Q718.9,53.3 720.4,53.3 H735.8 Q737.3,53.3 737.3,54.8 V60" fill="none" stroke="#1c1c1c" stroke-width="1.54" stroke-linejoin="round" stroke-linecap="round" />
<path d="M718.9,59.4 Q722,62.8 728.2,63.2 Q734,62.8 737.3,60.2" fill="none" stroke="#1c1c1c" stroke-width="1.54" stroke-linejoin="round" stroke-linecap="round" />
<line x1="719.4" y1="55.5" x2="736.8" y2="55.5" stroke="#333" stroke-width="1.5" stroke-linecap="butt"/>
<line x1="718.5" y1="91" x2="718.5" y2="241" stroke="#1c1c1c" stroke-width="1.4" stroke-linecap="butt"/>
<line x1="737.5" y1="89.6" x2="737.5" y2="241" stroke="#1c1c1c" stroke-width="1.4" stroke-linecap="butt"/>
<path d="M718.9,270.6 V352 M737.2,270.6 V352" fill="none" stroke="#1c1c1c" stroke-width="1.54" stroke-linejoin="round" stroke-linecap="round" />
<path d="M718.9,352 Q721,354.6 724,352.6 Q727,350.6 728,353" fill="none" stroke="#1c1c1c" stroke-width="1.1" stroke-linejoin="round" stroke-linecap="round" />
<path d="M728,353 Q730,355 733,353 Q735.6,351.2 737.2,352" fill="none" stroke="#1c1c1c" stroke-width="1.1" stroke-linejoin="round" stroke-linecap="round" />
<path d="M718.9,367 V413 M737.2,367 V413" fill="none" stroke="#1c1c1c" stroke-width="1.54" stroke-linejoin="round" stroke-linecap="round" />
<path d="M718.9,367 Q721,369.6 724,367.6 Q727,365.6 728,368 Q730,370 733,368 Q735.6,366.2 737.2,367" fill="none" stroke="#1c1c1c" stroke-width="1.1" stroke-linejoin="round" stroke-linecap="round" />
<path d="M694,241.2 H718.9 Q728,248 737.2,241.2 H778.8 Q779.8,241.2 779.8,242.4 V269.4 Q779.8,270.6 778.8,270.6 H737.2 Q728,264 718.9,270.6 H694 Q693,270.6 693,269.4 V242.4 Q693,241.2 694,241.2 Z" fill="none" stroke="#1c1c1c" stroke-width="1.65" stroke-linejoin="round" stroke-linecap="round" />
<line x1="714.2" y1="241.2" x2="714.2" y2="270.6" stroke="#1c1c1c" stroke-width="2" stroke-linecap="butt"/>
<line x1="741.2" y1="241.2" x2="741.2" y2="270.6" stroke="#1c1c1c" stroke-width="1.8" stroke-linecap="butt"/>
<path d="M697.8,241.2 V238.6 Q697.8,237 699.4,237 H707.8 Q709.4,237 709.4,238.6 V241.2" fill="none" stroke="#1c1c1c" stroke-width="1.43" stroke-linejoin="round" stroke-linecap="round" />
<path d="M698.6,241.2 Q703.6,243.6 708.6,241.2" fill="none" stroke="#1c1c1c" stroke-width="1" stroke-linejoin="round" stroke-linecap="round" />
<path d="M758.2,240.2 H779.4 Q776,246.6 768.6,246.8 Q761.4,246.6 758.2,240.2 Z" fill="#555" stroke="#1c1c1c" stroke-width="1" stroke-linejoin="round" stroke-linecap="round" />
<path d="M763,270.4 Q768.8,265.8 775,270.4" fill="#444" stroke="#1c1c1c" stroke-width="1.76" stroke-linejoin="round" stroke-linecap="round" />
<path d="M757.4,236.6 Q755,212 757.6,190 Q760.6,166 766.4,144 Q770,133 774.4,127.2 Q780,116 788,104 Q796,92 804,83.2 Q812,75.4 820,71.2 Q828,67.6 834.4,67.4 Q838.6,67.4 841,68.8 Q845.4,71.4 846.2,76 Q846.8,79.6 845.6,82" fill="none" stroke="#1c1c1c" stroke-width="1.54" stroke-linejoin="round" stroke-linecap="round" />
<path d="M845.6,82 L807.6,139.6 Q804.4,144.6 800.4,144.6 Q796.4,144.2 793.4,140.6 L839.8,69.8" fill="none" stroke="#1c1c1c" stroke-width="1.65" stroke-linejoin="round" stroke-linecap="round" />
<path d="M845.2,86.2 L808.4,141.4" fill="none" stroke="#222" stroke-width="2.6" stroke-linejoin="round" stroke-linecap="butt" stroke-dasharray="1.6 1.2" />
<path d="M843.4,85.2 L806.6,141" fill="none" stroke="#1c1c1c" stroke-width="1" stroke-linejoin="round" stroke-linecap="round" />
<ellipse cx="832.8" cy="89.6" rx="3" ry="1.5" transform="rotate(25 832.8 89.6)" fill="none" stroke="#1c1c1c" stroke-width="0.9"/>
<path d="M793.4,140.6 Q787.4,145 785.2,152 Q782.6,162 783.2,176 Q784.4,200 783.6,215 Q782.8,228 779.6,236.6" fill="none" stroke="#1c1c1c" stroke-width="1.54" stroke-linejoin="round" stroke-linecap="round" />
<path d="M774.4,127.2 Q785,131 792.4,140.2" fill="none" stroke="#1c1c1c" stroke-width="0.9" stroke-linejoin="round" stroke-linecap="round" />
<path d="M757.4,236.6 H779.6 M758.2,240.2 H779.4 M757.4,236.6 L758.2,240.2 M779.6,236.6 L779.4,240.2" fill="none" stroke="#1c1c1c" stroke-width="1.43" stroke-linejoin="round" stroke-linecap="round" />
<line x1="844" y1="71.2" x2="887.4" y2="99" stroke="#2a2a2a" stroke-width="1.15" stroke-linecap="butt"/>
<line x1="800.8" y1="145.6" x2="841" y2="171.6" stroke="#2a2a2a" stroke-width="1.15" stroke-linecap="butt"/>
<line x1="865.6" y1="117.6" x2="873" y2="106" stroke="#2a2a2a" stroke-width="1.15" stroke-linecap="butt"/>
<polygon points="880.8,95.2 875.02,110.27 869.47,106.69" fill="#1c1c1c" stroke="none" stroke-width="0"/>
<line x1="848.8" y1="144.8" x2="842.5" y2="155" stroke="#2a2a2a" stroke-width="1.15" stroke-linecap="butt"/>
<polygon points="834.4,167.2 840.18,152.13 845.73,155.71" fill="#1c1c1c" stroke="none" stroke-width="0"/>
<path d="M762.8,270.6 V352 M775.2,270.6 V352" fill="none" stroke="#1c1c1c" stroke-width="1.43" stroke-linejoin="round" stroke-linecap="round" />
<path d="M762.8,352 Q764.6,354.4 767,352.8 Q769,351.4 770,353 Q771.6,354.8 773.2,353 Q774.4,351.8 775.2,352" fill="none" stroke="#1c1c1c" stroke-width="1" stroke-linejoin="round" stroke-linecap="round" />
<path d="M762.8,367 V437.8 M775.2,367 V437.8" fill="none" stroke="#1c1c1c" stroke-width="1.43" stroke-linejoin="round" stroke-linecap="round" />
<path d="M762.8,367 Q764.6,369.4 767,367.8 Q769,366.4 770,368 Q771.6,369.8 773.2,368 Q774.4,366.8 775.2,367" fill="none" stroke="#1c1c1c" stroke-width="1" stroke-linejoin="round" stroke-linecap="round" />
<path d="M761.8,454.6 V438.6 Q761.8,437.8 762.8,437.8 H775.2 Q776,437.8 776,438.6 V454.6" fill="none" stroke="#1c1c1c" stroke-width="1.54" stroke-linejoin="round" stroke-linecap="round" />
<line x1="763.5" y1="441" x2="763.5" y2="454.6" stroke="#2a2a2a" stroke-width="0.8" stroke-linecap="butt"/>
<line x1="774.5" y1="441" x2="774.5" y2="454.6" stroke="#2a2a2a" stroke-width="0.8" stroke-linecap="butt"/>
<path d="M765.4,442.6 Q768.8,440.2 772.2,442.6 Z" fill="#1c1c1c" stroke="#1c1c1c" stroke-width="1.2" stroke-linejoin="round" stroke-linecap="round" />
<pattern id="kn" width="1.6" height="1.6" patternUnits="userSpaceOnUse" patternTransform="rotate(45)"><rect width="1.6" height="1.6" fill="#3a3a3a"/><rect width="0.6" height="0.6" fill="#bbb"/></pattern>
<rect x="758.6" y="454.8" width="20.4" height="10.6" rx="1.4" fill="url(#kn)" stroke="#1c1c1c" stroke-width="1.2"/>
<line x1="775.4" y1="401.5" x2="815.4" y2="401.5" stroke="#2a2a2a" stroke-width="1.15" stroke-linecap="butt"/>
<path d="M686.8,412.8 L718.9,413 M737.2,413 H744.2 V442.8" fill="none" stroke="#1c1c1c" stroke-width="1.54" stroke-linejoin="round" stroke-linecap="round" />
<path d="M686.8,416 L718,416.4 Q721,416.6 723,417.2 Q728,419 733,417 Q735.6,415.6 737.2,413" fill="none" stroke="#1c1c1c" stroke-width="1.2" stroke-linejoin="round" stroke-linecap="round" />
<path d="M686.8,439.4 L730,439.4 Q734,439.6 736.4,441.4 Q738,442.6 744.2,442.8" fill="none" stroke="#1c1c1c" stroke-width="1.43" stroke-linejoin="round" stroke-linecap="round" />
<path d="M686.8,443.2 L736,443 " fill="none" stroke="#1c1c1c" stroke-width="1.43" stroke-linejoin="round" stroke-linecap="round" />
<line x1="744.5" y1="443" x2="744.5" y2="468.4" stroke="#2a2a2a" stroke-width="1.15" stroke-linecap="butt"/>
<line x1="744.5" y1="489.4" x2="744.5" y2="511.6" stroke="#2a2a2a" stroke-width="1.15" stroke-linecap="butt"/>
<line x1="759.5" y1="465.4" x2="759.5" y2="486.4" stroke="#2a2a2a" stroke-width="1.15" stroke-linecap="butt"/>
<line x1="778.5" y1="465.4" x2="778.5" y2="486.4" stroke="#2a2a2a" stroke-width="1.15" stroke-linecap="butt"/>
<line x1="728" y1="478.5" x2="746.96" y2="478.5" stroke="#2a2a2a" stroke-width="1.15" stroke-linecap="butt"/>
<polygon points="759.6,478.5 743.8,481.8 743.8,475.2" fill="#1c1c1c" stroke="none" stroke-width="0"/>
<line x1="838.5" y1="478.5" x2="790.84" y2="478.5" stroke="#2a2a2a" stroke-width="1.15" stroke-linecap="butt"/>
<polygon points="778.2,478.5 794,475.2 794,481.8" fill="#1c1c1c" stroke="none" stroke-width="0"/>
<line x1="656.4" y1="504.5" x2="674.16" y2="504.5" stroke="#2a2a2a" stroke-width="1.15" stroke-linecap="butt"/>
<polygon points="686.8,504.5 671,507.8 671,501.2" fill="#1c1c1c" stroke="none" stroke-width="0"/>
<line x1="776" y1="504.5" x2="756.84" y2="504.5" stroke="#2a2a2a" stroke-width="1.15" stroke-linecap="butt"/>
<polygon points="744.2,504.5 760,501.2 760,507.8" fill="#1c1c1c" stroke="none" stroke-width="0"/>
<text x="573.72" y="259.8" font-size="22" fill="#1c1c1c">470-620</text>
<path d="M845.15,138.2L843.23,138.2L843.23,125.99Q842.54,126.65 841.42,127.31Q840.29,127.97 839.4,128.3L839.4,126.45Q841.01,125.69 842.21,124.62Q843.41,123.54 843.91,122.53L845.15,122.53Z" fill="#1c1c1c" stroke="#1c1c1c" stroke-width="0.3"/>
<text x="849.15" y="138.2" font-size="21.8" fill="#1c1c1c">00</text>
<path d="M829.55,408.8L827.63,408.8L827.63,396.59Q826.94,397.25 825.82,397.91Q824.69,398.57 823.8,398.9L823.8,397.05Q825.41,396.29 826.61,395.22Q827.81,394.14 828.31,393.13L829.55,393.13Z" fill="#1c1c1c" stroke="#1c1c1c" stroke-width="0.3"/>
<text x="833.55" y="408.8" font-size="21.8" fill="#1c1c1c">750</text>
<text x="795.72" y="475" font-size="21.5" fill="#1c1c1c">G</text>
<path d="M819.69,464.25L818.54,464.25L818.54,456.9Q818.12,457.3 817.45,457.7Q816.77,458.1 816.24,458.29L816.24,457.18Q817.2,456.73 817.93,456.08Q818.65,455.43 818.95,454.82L819.69,454.82Z" fill="#1c1c1c" stroke="#1c1c1c" stroke-width="0.3"/>
<text x="821.41" y="475" font-size="21.5" fill="#1c1c1c">/</text>
<text x="827.6" y="475" font-size="13.12" fill="#1c1c1c">2</text>
<text x="703.11" y="511.4" font-size="21.8" fill="#1c1c1c">65</text>
</g>
<g id="D">
<line x1="306" y1="524.5" x2="490.4" y2="524.5" stroke="#2a2a2a" stroke-width="1.15" stroke-linecap="butt"/>
<line x1="350" y1="545.5" x2="511.4" y2="545.5" stroke="#2a2a2a" stroke-width="1.15" stroke-linecap="butt"/>
<line x1="306" y1="660.5" x2="633" y2="660.5" stroke="#2a2a2a" stroke-width="1.2" stroke-linecap="butt"/>
<line x1="306" y1="801.5" x2="452" y2="801.5" stroke="#2a2a2a" stroke-width="1.15" stroke-linecap="butt"/>
<line x1="313.5" y1="580" x2="313.5" y2="536.2" stroke="#2a2a2a" stroke-width="1.15" stroke-linecap="butt"/>
<polygon points="313.5,524.6 316.2,539.1 310.8,539.1" fill="#1c1c1c" stroke="none" stroke-width="0"/>
<line x1="313.5" y1="605" x2="313.5" y2="648.8" stroke="#2a2a2a" stroke-width="1.15" stroke-linecap="butt"/>
<polygon points="313.5,660.4 310.8,645.9 316.2,645.9" fill="#1c1c1c" stroke="none" stroke-width="0"/>
<line x1="357.5" y1="590" x2="357.5" y2="556.6" stroke="#2a2a2a" stroke-width="1.15" stroke-linecap="butt"/>
<polygon points="357.5,545 360.2,559.5 354.8,559.5" fill="#1c1c1c" stroke="none" stroke-width="0"/>
<line x1="357.5" y1="615" x2="357.5" y2="648.8" stroke="#2a2a2a" stroke-width="1.15" stroke-linecap="butt"/>
<polygon points="357.5,660.4 354.8,645.9 360.2,645.9" fill="#1c1c1c" stroke="none" stroke-width="0"/>
<line x1="313.5" y1="718" x2="313.5" y2="672.4" stroke="#2a2a2a" stroke-width="1.15" stroke-linecap="butt"/>
<polygon points="313.5,660.8 316.2,675.3 310.8,675.3" fill="#1c1c1c" stroke="none" stroke-width="0"/>
<line x1="313.5" y1="744" x2="313.5" y2="790" stroke="#2a2a2a" stroke-width="1.15" stroke-linecap="butt"/>
<polygon points="313.5,801.6 310.8,787.1 316.2,787.1" fill="#1c1c1c" stroke="none" stroke-width="0"/>
<line x1="387" y1="610.5" x2="431.4" y2="610.5" stroke="#2a2a2a" stroke-width="1.15" stroke-linecap="butt"/>
<polygon points="443,610.5 428.5,613.2 428.5,607.8" fill="#1c1c1c" stroke="none" stroke-width="0"/>
<line x1="499.5" y1="610.5" x2="482.8" y2="610.5" stroke="#2a2a2a" stroke-width="1.15" stroke-linecap="butt"/>
<polygon points="471.2,610.5 485.7,607.8 485.7,613.2" fill="#1c1c1c" stroke="none" stroke-width="0"/>
<line x1="432.5" y1="632" x2="432.5" y2="648.8" stroke="#2a2a2a" stroke-width="1.15" stroke-linecap="butt"/>
<polygon points="432.5,660.4 429.8,645.9 435.2,645.9" fill="#1c1c1c" stroke="none" stroke-width="0"/>
<line x1="432.5" y1="707.6" x2="432.5" y2="690.6" stroke="#2a2a2a" stroke-width="1.15" stroke-linecap="butt"/>
<polygon points="432.5,679 435.2,693.5 429.8,693.5" fill="#1c1c1c" stroke="none" stroke-width="0"/>
<line x1="348" y1="707.5" x2="433.3" y2="707.5" stroke="#2a2a2a" stroke-width="1.15" stroke-linecap="butt"/>
<line x1="430.5" y1="678.5" x2="482.5" y2="678.5" stroke="#2a2a2a" stroke-width="1.2" stroke-linecap="butt"/>
<clipPath id="hD1"><rect x="431" y="661" width="15.5" height="17.4"/></clipPath>
<g clip-path="url(#hD1)">
<line x1="430" y1="653.88" x2="447.5" y2="640.75" stroke="#222" stroke-width="1.2" stroke-linecap="butt"/>
<line x1="430" y1="661.88" x2="447.5" y2="648.75" stroke="#222" stroke-width="1.2" stroke-linecap="butt"/>
<line x1="430" y1="669.88" x2="447.5" y2="656.75" stroke="#222" stroke-width="1.2" stroke-linecap="butt"/>
<line x1="430" y1="677.88" x2="447.5" y2="664.75" stroke="#222" stroke-width="1.2" stroke-linecap="butt"/>
<line x1="430" y1="685.88" x2="447.5" y2="672.75" stroke="#222" stroke-width="1.2" stroke-linecap="butt"/>
<line x1="430" y1="693.88" x2="447.5" y2="680.75" stroke="#222" stroke-width="1.2" stroke-linecap="butt"/>
<line x1="430" y1="701.88" x2="447.5" y2="688.75" stroke="#222" stroke-width="1.2" stroke-linecap="butt"/>
<line x1="430" y1="709.88" x2="447.5" y2="696.75" stroke="#222" stroke-width="1.2" stroke-linecap="butt"/>
</g>
<clipPath id="hD2"><rect x="467.2" y="661" width="14.8" height="17.4"/></clipPath>
<g clip-path="url(#hD2)">
<line x1="466.2" y1="650.35" x2="483" y2="637.75" stroke="#222" stroke-width="1.2" stroke-linecap="butt"/>
<line x1="466.2" y1="658.35" x2="483" y2="645.75" stroke="#222" stroke-width="1.2" stroke-linecap="butt"/>
<line x1="466.2" y1="666.35" x2="483" y2="653.75" stroke="#222" stroke-width="1.2" stroke-linecap="butt"/>
<line x1="466.2" y1="674.35" x2="483" y2="661.75" stroke="#222" stroke-width="1.2" stroke-linecap="butt"/>
<line x1="466.2" y1="682.35" x2="483" y2="669.75" stroke="#222" stroke-width="1.2" stroke-linecap="butt"/>
<line x1="466.2" y1="690.35" x2="483" y2="677.75" stroke="#222" stroke-width="1.2" stroke-linecap="butt"/>
<line x1="466.2" y1="698.35" x2="483" y2="685.75" stroke="#222" stroke-width="1.2" stroke-linecap="butt"/>
<line x1="466.2" y1="706.35" x2="483" y2="693.75" stroke="#222" stroke-width="1.2" stroke-linecap="butt"/>
</g>
<line x1="418" y1="669.5" x2="432" y2="669.5" stroke="#2a2a2a" stroke-width="1.15" stroke-linecap="butt"/>
<polygon points="446.5,669.7 432,672.4 432,667" fill="#1c1c1c" stroke="none" stroke-width="0"/>
<polygon points="467.3,669.7 481.8,667 481.8,672.4" fill="#1c1c1c" stroke="none" stroke-width="0"/>
<path d="M481,669.7 H495.8 V692.6 H535.2" fill="none" stroke="#2a2a2a" stroke-width="1.15" stroke-linejoin="miter" stroke-linecap="butt" />
<rect x="446.6" y="661.2" width="8" height="17.2" rx="0" fill="#fff" stroke="#1c1c1c" stroke-width="1.2"/>
<rect x="447.6" y="664.6" width="6.2" height="12.8" rx="0" fill="#fff" stroke="#1c1c1c" stroke-width="0.9"/>
<line x1="446.6" y1="663.5" x2="467" y2="663.5" stroke="#1c1c1c" stroke-width="1.6" stroke-linecap="butt"/>
<rect x="461.4" y="664.4" width="3.6" height="13" rx="0" fill="#fff" stroke="#1c1c1c" stroke-width="0.9"/>
<line x1="466.5" y1="661" x2="466.5" y2="678.4" stroke="#1c1c1c" stroke-width="1.2" stroke-linecap="butt"/>
<pattern id="thr" x="454.6" y="661" width="2.9" height="2.4" patternUnits="userSpaceOnUse"><rect width="2.9" height="2.4" fill="#2b2b2b"/><rect x="1" y="0.35" width="0.9" height="0.65" fill="#a8a8a8"/><rect x="-0.45" y="1.55" width="0.9" height="0.65" fill="#a8a8a8"/><rect x="2.45" y="1.55" width="0.9" height="0.65" fill="#a8a8a8"/></pattern>
<rect x="454.6" y="661" width="5.8" height="68" fill="url(#thr)"/>
<path d="M454.9,661 V729 M460.1,661 V729" fill="none" stroke="#1c1c1c" stroke-width="0.9" stroke-linejoin="round" stroke-linecap="butt" />
<path d="M449,679 H473.5 L472.4,682.4 H450.4 Z" fill="#fff" stroke="#1c1c1c" stroke-width="1.2" stroke-linejoin="round" stroke-linecap="round" />
<path d="M461.6,683 H467.4 V689.6 H465.8 V693.4 H461.6" fill="#fff" stroke="#1c1c1c" stroke-width="1.2" stroke-linejoin="round" stroke-linecap="round" />
<line x1="461.4" y1="689.5" x2="466" y2="689.5" stroke="#1c1c1c" stroke-width="1" stroke-linecap="butt"/>
<line x1="456.5" y1="729" x2="456.5" y2="750" stroke="#2a2a2a" stroke-width="1.15" stroke-linecap="butt"/>
<rect x="454.8" y="750" width="5.8" height="38" fill="url(#thr)"/>
<path d="M455.1,750 V788 M460.3,750 V788" fill="none" stroke="#1c1c1c" stroke-width="0.9" stroke-linejoin="round" stroke-linecap="butt" />
<path d="M455.6,788 V795 M460,788 V795" fill="none" stroke="#1c1c1c" stroke-width="1.43" stroke-linejoin="round" stroke-linecap="round" />
<rect x="455.6" y="788" width="4.4" height="7" fill="#555"/>
<rect x="451" y="795" width="13.4" height="6.8" rx="2.4" fill="#444" stroke="#1c1c1c" stroke-width="1.2"/>
<line x1="452.5" y1="802" x2="452.5" y2="823" stroke="#2a2a2a" stroke-width="1.15" stroke-linecap="butt"/>
<line x1="463.5" y1="802" x2="463.5" y2="823" stroke="#2a2a2a" stroke-width="1.15" stroke-linecap="butt"/>
<line x1="427.6" y1="742.5" x2="444.8" y2="742.5" stroke="#2a2a2a" stroke-width="1.15" stroke-linecap="butt"/>
<polygon points="456.4,742.5 441.9,745.2 441.9,739.8" fill="#1c1c1c" stroke="none" stroke-width="0"/>
<line x1="423" y1="816.5" x2="440.4" y2="816.5" stroke="#2a2a2a" stroke-width="1.15" stroke-linecap="butt"/>
<polygon points="452,816.5 437.5,819.2 437.5,813.8" fill="#1c1c1c" stroke="none" stroke-width="0"/>
<line x1="519.6" y1="815.5" x2="474.6" y2="815.5" stroke="#2a2a2a" stroke-width="1.15" stroke-linecap="butt"/>
<polygon points="463,815.5 477.5,812.8 477.5,818.2" fill="#1c1c1c" stroke="none" stroke-width="0"/>
<path d="M443,660.4 V576.4 M470.8,660.4 V600 Q471,596.4 475.4,595.4 L521,590.6" fill="none" stroke="#1c1c1c" stroke-width="1.65" stroke-linejoin="round" stroke-linecap="round" />
<path d="M443.4,575.3 H537.8" fill="none" stroke="#1c1c1c" stroke-width="2.2" stroke-linejoin="round" stroke-linecap="round" />
<path d="M443.4,577.5 L470,577.5 L535.6,577.2" fill="none" stroke="#1c1c1c" stroke-width="1" stroke-linejoin="round" stroke-linecap="round" />
<path d="M537.6,575.8 L523.2,591.2" fill="none" stroke="#1c1c1c" stroke-width="1.65" stroke-linejoin="round" stroke-linecap="round" />
<path d="M534.6,580.6 L525.2,590.6 L523.4,589 L532.6,579.4 Z" fill="#333" stroke="#1c1c1c" stroke-width="1.2" stroke-linejoin="round" stroke-linecap="round" />
<path d="M461.6,578 Q463.6,590.4 471,597.4" fill="none" stroke="#1c1c1c" stroke-width="0.9" stroke-linejoin="round" stroke-linecap="round" />
<path d="M471.2,574.6 V559 Q471.4,555 475.6,553.8 Q492,551 508,548.2 Q510.6,547 511.6,545.2" fill="none" stroke="#1c1c1c" stroke-width="1.87" stroke-linejoin="round" stroke-linecap="round" />
<path d="M511.6,545.2 Q478,547.6 446.8,552.4" fill="none" stroke="#1c1c1c" stroke-width="2.42" stroke-linejoin="round" stroke-linecap="round" />
<path d="M446.8,552.4 L443.8,555.8 L443.8,565.2 L457.6,573.8" fill="none" stroke="#1c1c1c" stroke-width="1.87" stroke-linejoin="round" stroke-linecap="round" />
<path d="M444.2,575 Q445.4,571 448.4,568.6" fill="none" stroke="#1c1c1c" stroke-width="1.1" stroke-linejoin="round" stroke-linecap="round" />
<path d="M490.2,525.4 L446.8,551.8" fill="none" stroke="#1c1c1c" stroke-width="1.2" stroke-linejoin="round" stroke-linecap="butt" stroke-dasharray="9 2.6" />
<path d="M489.8,527.8 L461,549.6" fill="none" stroke="#1c1c1c" stroke-width="1.2" stroke-linejoin="round" stroke-linecap="butt" stroke-dasharray="9 2.6" />
<path d="M446.4,552.6 L432.8,563 L438.4,573.2 L458,573.6 L466.4,567.6 L460,553.6" fill="none" stroke="#1c1c1c" stroke-width="1.2" stroke-linejoin="round" stroke-linecap="butt" stroke-dasharray="6 2.4" />
<line x1="529.5" y1="589" x2="529.5" y2="649.4" stroke="#2a2a2a" stroke-width="1.15" stroke-linecap="butt"/>
<line x1="530.4" y1="590.2" x2="567.8" y2="635" stroke="#2a2a2a" stroke-width="1.15" stroke-linecap="butt"/>
<line x1="531.8" y1="587.5" x2="578.4" y2="587.5" stroke="#2a2a2a" stroke-width="1.15" stroke-linecap="butt"/>
<line x1="590.4" y1="587.5" x2="633" y2="587.5" stroke="#2a2a2a" stroke-width="1.15" stroke-linecap="butt"/>
<line x1="584.4" y1="581.5" x2="628.8" y2="581.5" stroke="#2a2a2a" stroke-width="1.15" stroke-linecap="butt"/>
<path d="M584.6,581.3 Q583.4,603 573.4,618.4" fill="none" stroke="#2a2a2a" stroke-width="1.15" stroke-linejoin="round" stroke-linecap="round" />
<polygon points="563.4,629.8 570.56,616.91 574.72,620.35" fill="#1c1c1c" stroke="none" stroke-width="0"/>
<path d="M501.6,634.4 Q508,638.6 516,641" fill="none" stroke="#2a2a2a" stroke-width="1.15" stroke-linejoin="round" stroke-linecap="round" />
<polygon points="529.4,641.6 514.8,643.72 515.02,638.32" fill="#1c1c1c" stroke="none" stroke-width="0"/>
<line x1="625.5" y1="612" x2="625.5" y2="598.9" stroke="#2a2a2a" stroke-width="1.15" stroke-linecap="butt"/>
<polygon points="625.5,587.3 628.2,601.8 622.8,601.8" fill="#1c1c1c" stroke="none" stroke-width="0"/>
<line x1="625.5" y1="637" x2="625.5" y2="648.8" stroke="#2a2a2a" stroke-width="1.15" stroke-linecap="butt"/>
<polygon points="625.5,660.4 622.8,645.9 628.2,645.9" fill="#1c1c1c" stroke="none" stroke-width="0"/>
<line x1="567.5" y1="708" x2="567.5" y2="744" stroke="#2a2a2a" stroke-width="1.15" stroke-linecap="butt"/>
<line x1="606.5" y1="708" x2="606.5" y2="744" stroke="#2a2a2a" stroke-width="1.15" stroke-linecap="butt"/>
<line x1="538" y1="715.5" x2="556.2" y2="715.5" stroke="#2a2a2a" stroke-width="1.15" stroke-linecap="butt"/>
<polygon points="567.8,715.5 553.3,718.2 553.3,712.8" fill="#1c1c1c" stroke="none" stroke-width="0"/>
<line x1="635" y1="715.5" x2="617.6" y2="715.5" stroke="#2a2a2a" stroke-width="1.15" stroke-linecap="butt"/>
<polygon points="606,715.5 620.5,712.8 620.5,718.2" fill="#1c1c1c" stroke="none" stroke-width="0"/>
<line x1="528.5" y1="702" x2="528.5" y2="749.6" stroke="#2a2a2a" stroke-width="1.15" stroke-linecap="butt"/>
<line x1="559" y1="742.5" x2="540.4" y2="742.5" stroke="#2a2a2a" stroke-width="1.15" stroke-linecap="butt"/>
<polygon points="528.8,742.5 543.3,739.8 543.3,745.2" fill="#1c1c1c" stroke="none" stroke-width="0"/>
<line x1="555.6" y1="751.5" x2="660" y2="751.5" stroke="#2a2a2a" stroke-width="1.3" stroke-linecap="butt"/>
<line x1="555.6" y1="777.5" x2="660" y2="777.5" stroke="#2a2a2a" stroke-width="1.3" stroke-linecap="butt"/>
<clipPath id="hD3"><rect x="555.8" y="752" width="17.4" height="25.4"/></clipPath>
<g clip-path="url(#hD3)">
<line x1="554.8" y1="748.48" x2="574.2" y2="730.05" stroke="#222" stroke-width="1.5" stroke-linecap="butt"/>
<line x1="554.8" y1="757.48" x2="574.2" y2="739.05" stroke="#222" stroke-width="1.5" stroke-linecap="butt"/>
<line x1="554.8" y1="766.48" x2="574.2" y2="748.05" stroke="#222" stroke-width="1.5" stroke-linecap="butt"/>
<line x1="554.8" y1="775.48" x2="574.2" y2="757.05" stroke="#222" stroke-width="1.5" stroke-linecap="butt"/>
<line x1="554.8" y1="784.48" x2="574.2" y2="766.05" stroke="#222" stroke-width="1.5" stroke-linecap="butt"/>
<line x1="554.8" y1="793.48" x2="574.2" y2="775.05" stroke="#222" stroke-width="1.5" stroke-linecap="butt"/>
<line x1="554.8" y1="802.48" x2="574.2" y2="784.05" stroke="#222" stroke-width="1.5" stroke-linecap="butt"/>
<line x1="554.8" y1="811.48" x2="574.2" y2="793.05" stroke="#222" stroke-width="1.5" stroke-linecap="butt"/>
</g>
<clipPath id="hD4"><rect x="601.2" y="752" width="16" height="25.4"/></clipPath>
<g clip-path="url(#hD4)">
<line x1="600.2" y1="743.15" x2="618.2" y2="726.05" stroke="#222" stroke-width="1.5" stroke-linecap="butt"/>
<line x1="600.2" y1="752.15" x2="618.2" y2="735.05" stroke="#222" stroke-width="1.5" stroke-linecap="butt"/>
<line x1="600.2" y1="761.15" x2="618.2" y2="744.05" stroke="#222" stroke-width="1.5" stroke-linecap="butt"/>
<line x1="600.2" y1="770.15" x2="618.2" y2="753.05" stroke="#222" stroke-width="1.5" stroke-linecap="butt"/>
<line x1="600.2" y1="779.15" x2="618.2" y2="762.05" stroke="#222" stroke-width="1.5" stroke-linecap="butt"/>
<line x1="600.2" y1="788.15" x2="618.2" y2="771.05" stroke="#222" stroke-width="1.5" stroke-linecap="butt"/>
<line x1="600.2" y1="797.15" x2="618.2" y2="780.05" stroke="#222" stroke-width="1.5" stroke-linecap="butt"/>
<line x1="600.2" y1="806.15" x2="618.2" y2="789.05" stroke="#222" stroke-width="1.5" stroke-linecap="butt"/>
<line x1="600.2" y1="815.15" x2="618.2" y2="798.05" stroke="#222" stroke-width="1.5" stroke-linecap="butt"/>
</g>
<path d="M567.4,744.8 Q586.4,734.8 605.6,744.8" fill="none" stroke="#1c1c1c" stroke-width="1.2" stroke-linejoin="round" stroke-linecap="round" />
<path d="M569.6,744.6 Q586.4,737.8 603.4,744.6" fill="none" stroke="#1c1c1c" stroke-width="0.9" stroke-linejoin="round" stroke-linecap="round" />
<line x1="566.8" y1="745" x2="606.2" y2="745" stroke="#1c1c1c" stroke-width="2.2" stroke-linecap="butt"/>
<rect x="568.2" y="746.4" width="36.8" height="4.8" rx="0" fill="#fff" stroke="#1c1c1c" stroke-width="1.2"/>
<path d="M576.4,746.4 V751.2 M578,746.4 V751.2 M595.6,746.4 V751.2 M597.6,746.4 V751.2" fill="none" stroke="#1c1c1c" stroke-width="1" stroke-linejoin="round" stroke-linecap="round" />
<path d="M569.2,751.6 L573.6,757.4 V778 M603.6,751.6 L600.4,757.4 V778" fill="none" stroke="#1c1c1c" stroke-width="2.2" stroke-linejoin="round" stroke-linecap="round" />
<rect x="574" y="757.4" width="26" height="20.4" fill="#fff"/>
<path d="M573.6,757.4 V778 M600.4,757.4 V778" fill="none" stroke="#1c1c1c" stroke-width="2.42" stroke-linejoin="round" stroke-linecap="round" />
<line x1="573.6" y1="758.5" x2="600.4" y2="758.5" stroke="#1c1c1c" stroke-width="1.2" stroke-linecap="butt"/>
<line x1="573.6" y1="760.8" x2="600.4" y2="760.8" stroke="#1c1c1c" stroke-width="1.8" stroke-linecap="butt"/>
<line x1="573.6" y1="762.5" x2="600.4" y2="762.5" stroke="#1c1c1c" stroke-width="1" stroke-linecap="butt"/>
<rect x="576.8" y="765.4" width="5.2" height="6.8" rx="0" fill="none" stroke="#1c1c1c" stroke-width="1"/>
<rect x="591.6" y="765.4" width="5.6" height="6.8" rx="0" fill="none" stroke="#1c1c1c" stroke-width="1"/>
<path d="M583.4,764 V773 M590,764 V773" fill="none" stroke="#1c1c1c" stroke-width="0.9" stroke-linejoin="round" stroke-linecap="round" />
<line x1="573.6" y1="773.5" x2="600.4" y2="773.5" stroke="#1c1c1c" stroke-width="1.6" stroke-linecap="butt"/>
<line x1="573.6" y1="777.8" x2="600.4" y2="777.8" stroke="#1c1c1c" stroke-width="2" stroke-linecap="butt"/>
<rect x="567.2" y="779.4" width="38.8" height="5" rx="2" fill="#777" stroke="#1c1c1c" stroke-width="1.4"/>
<path d="M572.6,784.6 V794.6 Q572.6,796.4 574.2,796.6 H599 Q600.6,796.4 600.6,794.6 V784.6" fill="#fff" stroke="#1c1c1c" stroke-width="1.65" stroke-linejoin="round" stroke-linecap="round" />
<path d="M580.8,785 V796 M592,785 V796" fill="none" stroke="#1c1c1c" stroke-width="1.2" stroke-linejoin="round" stroke-linecap="round" />
<path d="M574.2,797 V804.6 Q574.2,805.8 575.4,805.8 H598 Q599.2,805.8 599.2,804.6 V797" fill="#fff" stroke="#1c1c1c" stroke-width="1.65" stroke-linejoin="round" stroke-linecap="round" />
<line x1="574.2" y1="798.5" x2="599.2" y2="798.5" stroke="#1c1c1c" stroke-width="1" stroke-linecap="butt"/>
<line x1="574.5" y1="806" x2="574.5" y2="842" stroke="#2a2a2a" stroke-width="1.15" stroke-linecap="butt"/>
<line x1="598.5" y1="806" x2="598.5" y2="842" stroke="#2a2a2a" stroke-width="1.15" stroke-linecap="butt"/>
<line x1="545.6" y1="834.5" x2="562.8" y2="834.5" stroke="#2a2a2a" stroke-width="1.15" stroke-linecap="butt"/>
<polygon points="574.4,834.5 559.9,837.2 559.9,831.8" fill="#1c1c1c" stroke="none" stroke-width="0"/>
<line x1="668.4" y1="834.5" x2="610.2" y2="834.5" stroke="#2a2a2a" stroke-width="1.15" stroke-linecap="butt"/>
<polygon points="598.6,834.5 613.1,831.8 613.1,837.2" fill="#1c1c1c" stroke="none" stroke-width="0"/>
<line x1="651.5" y1="723" x2="651.5" y2="740" stroke="#2a2a2a" stroke-width="1.15" stroke-linecap="butt"/>
<polygon points="651.5,751.6 648.8,737.1 654.2,737.1" fill="#1c1c1c" stroke="none" stroke-width="0"/>
<line x1="651.5" y1="807" x2="651.5" y2="789.4" stroke="#2a2a2a" stroke-width="1.15" stroke-linecap="butt"/>
<polygon points="651.5,777.8 654.2,792.3 648.8,792.3" fill="#1c1c1c" stroke="none" stroke-width="0"/>
<text x="296.29" y="599.4" font-size="20.2" fill="#1c1c1c">225</text>
<path d="M347.93,609.8L346.15,609.8L346.15,598.49Q345.51,599.1 344.47,599.71Q343.43,600.32 342.6,600.63L342.6,598.91Q344.09,598.21 345.2,597.22Q346.32,596.22 346.78,595.28L347.93,595.28Z" fill="#1c1c1c" stroke="#1c1c1c" stroke-width="0.3"/>
<text x="351.63" y="609.8" font-size="20.2" fill="#1c1c1c">92</text>
<text x="388.51" y="607.8" font-size="20.2" fill="#1c1c1c">Ø46</text>
<text x="592.23" y="578.2" font-size="20.2" fill="#1c1c1c">39</text>
<circle cx="621.6" cy="567.6" r="2.85" fill="none" stroke="#1c1c1c" stroke-width="1.3"/>
<path d="M616.33,631L614.55,631L614.55,619.69Q613.91,620.3 612.87,620.91Q611.83,621.52 611,621.83L611,620.11Q612.49,619.41 613.6,618.42Q614.72,617.42 615.18,616.48L616.33,616.48Z" fill="#1c1c1c" stroke="#1c1c1c" stroke-width="0.3"/>
<text x="620.03" y="631" font-size="20.2" fill="#1c1c1c">2</text>
<path d="M638.8,631L637.02,631L637.02,619.69Q636.38,620.3 635.34,620.91Q634.3,621.52 633.47,621.83L633.47,620.11Q634.96,619.41 636.07,618.42Q637.19,617.42 637.65,616.48L638.8,616.48Z" fill="#1c1c1c" stroke="#1c1c1c" stroke-width="0.3"/>
<text x="497.51" y="688.6" font-size="20.2" fill="#1c1c1c">Ø34</text>
<text x="352.87" y="704.8" font-size="20.2" fill="#1c1c1c">max.</text>
<text x="400.63" y="704.8" font-size="20.2" fill="#1c1c1c">30</text>
<text x="295.03" y="738.8" font-size="20.2" fill="#1c1c1c">365</text>
<path d="M483.53,750.2L481.75,750.2L481.75,738.89Q481.11,739.5 480.07,740.11Q479.03,740.72 478.2,741.03L478.2,739.31Q479.69,738.61 480.8,737.62Q481.92,736.62 482.38,735.68L483.53,735.68Z" fill="#1c1c1c" stroke="#1c1c1c" stroke-width="0.3"/>
<text x="487.23" y="750.2" font-size="20.2" fill="#1c1c1c">2</text>
<path d="M506,750.2L504.22,750.2L504.22,738.89Q503.58,739.5 502.54,740.11Q501.5,740.72 500.67,741.03L500.67,739.31Q502.16,738.61 503.27,737.62Q504.39,736.62 504.85,735.68L506,735.68Z" fill="#1c1c1c" stroke="#1c1c1c" stroke-width="0.3"/>
<text x="479.59" y="811.8" font-size="20.2" fill="#1c1c1c">G</text>
<text x="497.54" y="801.7" font-size="12.32" fill="#1c1c1c">3</text>
<text x="505.48" y="811.8" font-size="20.2" fill="#1c1c1c">/</text>
<text x="511.37" y="811.8" font-size="12.32" fill="#1c1c1c">8</text>
<text x="568.51" y="722.8" font-size="20.2" fill="#1c1c1c">Ø63</text>
<text x="624.43" y="772.8" font-size="20.2" fill="#1c1c1c">35-45</text>
<text x="613.79" y="830.2" font-size="20.2" fill="#1c1c1c">G</text>
<path d="M637.03,830.2L635.25,830.2L635.25,818.89Q634.61,819.5 633.57,820.11Q632.53,820.72 631.7,821.03L631.7,819.31Q633.19,818.61 634.31,817.62Q635.42,816.62 635.88,815.68L637.03,815.68Z" fill="#1c1c1c" stroke="#1c1c1c" stroke-width="0.3"/>
<path d="M647.28,820.1L646.19,820.1L646.19,813.2Q645.8,813.57 645.17,813.95Q644.53,814.32 644.03,814.5L644.03,813.46Q644.94,813.03 645.62,812.42Q646.3,811.81 646.58,811.24L647.28,811.24Z" fill="#1c1c1c" stroke="#1c1c1c" stroke-width="0.3"/>
<text x="648.89" y="830.2" font-size="20.2" fill="#1c1c1c">/</text>
<text x="655.05" y="830.2" font-size="12.32" fill="#1c1c1c">4</text>
</g>
<g id="E">
<path d="M458.2,900.8 L480.6,875 Q483.4,871.6 486.6,873.6 L493.6,876 Q496.6,877.6 494.6,880.4 L481.6,898.4" fill="none" stroke="#222" stroke-width="1.1" stroke-linejoin="round" stroke-linecap="butt" stroke-dasharray="7 2.6" />
<line x1="487.6" y1="878" x2="514.6" y2="845.6" stroke="#2a2a2a" stroke-width="1.15" stroke-linecap="butt"/>
<path d="M458.2,931.6 L480.6,957.4 Q483.4,960.8 486.6,958.8 L493.6,956.4 Q496.6,954.8 494.6,952 L481.6,934" fill="none" stroke="#222" stroke-width="1.1" stroke-linejoin="round" stroke-linecap="butt" stroke-dasharray="7 2.6" />
<line x1="487.6" y1="954.4" x2="514.6" y2="986.8" stroke="#2a2a2a" stroke-width="1.15" stroke-linecap="butt"/>
<path d="M458.4,902.8 L531.4,904.4 Q534.4,904.6 535.4,907 Q536.9,911 536.9,916.2 Q536.9,921.4 535.4,925.4 Q534.4,927.8 531.4,928 L458.4,929.6" fill="#fff" stroke="#1c1c1c" stroke-width="1.76" stroke-linejoin="round" stroke-linecap="round" />
<path d="M458.6,902.8 A13.5,13.5 0 1 0 458.6,929.5" fill="#fff" stroke="#1c1c1c" stroke-width="2.64" stroke-linejoin="round" stroke-linecap="round" />
<path d="M466,906.4 Q470,907.2 475.6,907.4 L506.6,908.7 Q510.3,909 510.3,912.2 L510.3,920.2 Q510.3,923.2 506.6,923.4 L475.6,924.8 Q470,925 466,925.8" fill="none" stroke="#1c1c1c" stroke-width="1.87" stroke-linejoin="round" stroke-linecap="round" />
<path d="M466,906.4 Q464.6,906.2 464.2,904.8 M466,925.8 Q464.6,926 464.2,927.4" fill="none" stroke="#1c1c1c" stroke-width="1.76" stroke-linejoin="round" stroke-linecap="round" />
<path d="M459.5,903.6 Q468,904.6 476,905.2 M459.5,928.7 Q468,927.8 476,927.2" fill="none" stroke="#1c1c1c" stroke-width="0.9" stroke-linejoin="round" stroke-linecap="round" />
<path d="M454.6,912.6 H455.2 Q458.2,913.4 458.2,916.2 Q458.2,919 455.2,919.8 H454.6 Q454.1,919.8 454.1,919.2 V913.2 Q454.1,912.6 454.6,912.6 Z" fill="#1c1c1c" stroke="#1c1c1c" stroke-width="0.6" stroke-linejoin="round" stroke-linecap="round" />
<line x1="497.2" y1="916.5" x2="547" y2="916.5" stroke="#2a2a2a" stroke-width="1.15" stroke-dasharray="9.6 7.8 40 0" stroke-linecap="butt"/>
<path d="M510.62,854.24 L512.46,855.91 L514.25,857.64 L515.99,859.42 L517.67,861.25 L519.3,863.13 L520.87,865.06 L522.38,867.04 L523.83,869.06" fill="none" stroke="#2a2a2a" stroke-width="1.15" stroke-linejoin="round" stroke-linecap="butt" />
<path d="M535.6,894.13 L536.08,895.94 L536.52,897.76 L536.91,899.59 L537.27,901.43 L537.58,903.28" fill="none" stroke="#2a2a2a" stroke-width="1.15" stroke-linejoin="round" stroke-linecap="butt" />
<path d="M535.6,938.27 L536.08,936.46 L536.52,934.64 L536.91,932.81 L537.27,930.97 L537.58,929.12" fill="none" stroke="#2a2a2a" stroke-width="1.15" stroke-linejoin="round" stroke-linecap="butt" />
<path d="M510.62,978.16 L512.46,976.49 L514.25,974.76 L515.99,972.98 L517.67,971.15 L519.3,969.27 L520.87,967.34 L522.38,965.36 L523.83,963.34" fill="none" stroke="#2a2a2a" stroke-width="1.15" stroke-linejoin="round" stroke-linecap="butt" />
<polygon points="509.75,853.48 521.43,861.64 517.72,865.29" fill="#1c1c1c" stroke="none" stroke-width="0"/>
<polygon points="538.6,916.2 534.82,902.47 540.01,902.03" fill="#1c1c1c" stroke="none" stroke-width="0"/>
<polygon points="538.6,916.2 540.01,930.37 534.82,929.93" fill="#1c1c1c" stroke="none" stroke-width="0"/>
<polygon points="509.75,978.92 517.72,967.11 521.43,970.76" fill="#1c1c1c" stroke="none" stroke-width="0"/>
<text x="517" y="888" font-size="20" fill="#1c1c1c">50</text>
<circle cx="545.2" cy="877" r="2.6" fill="none" stroke="#1c1c1c" stroke-width="1.2"/>
<text x="517" y="959" font-size="20" fill="#1c1c1c">50</text>
<circle cx="545.2" cy="948" r="2.6" fill="none" stroke="#1c1c1c" stroke-width="1.2"/>
</g>
</svg>
</body></html>
